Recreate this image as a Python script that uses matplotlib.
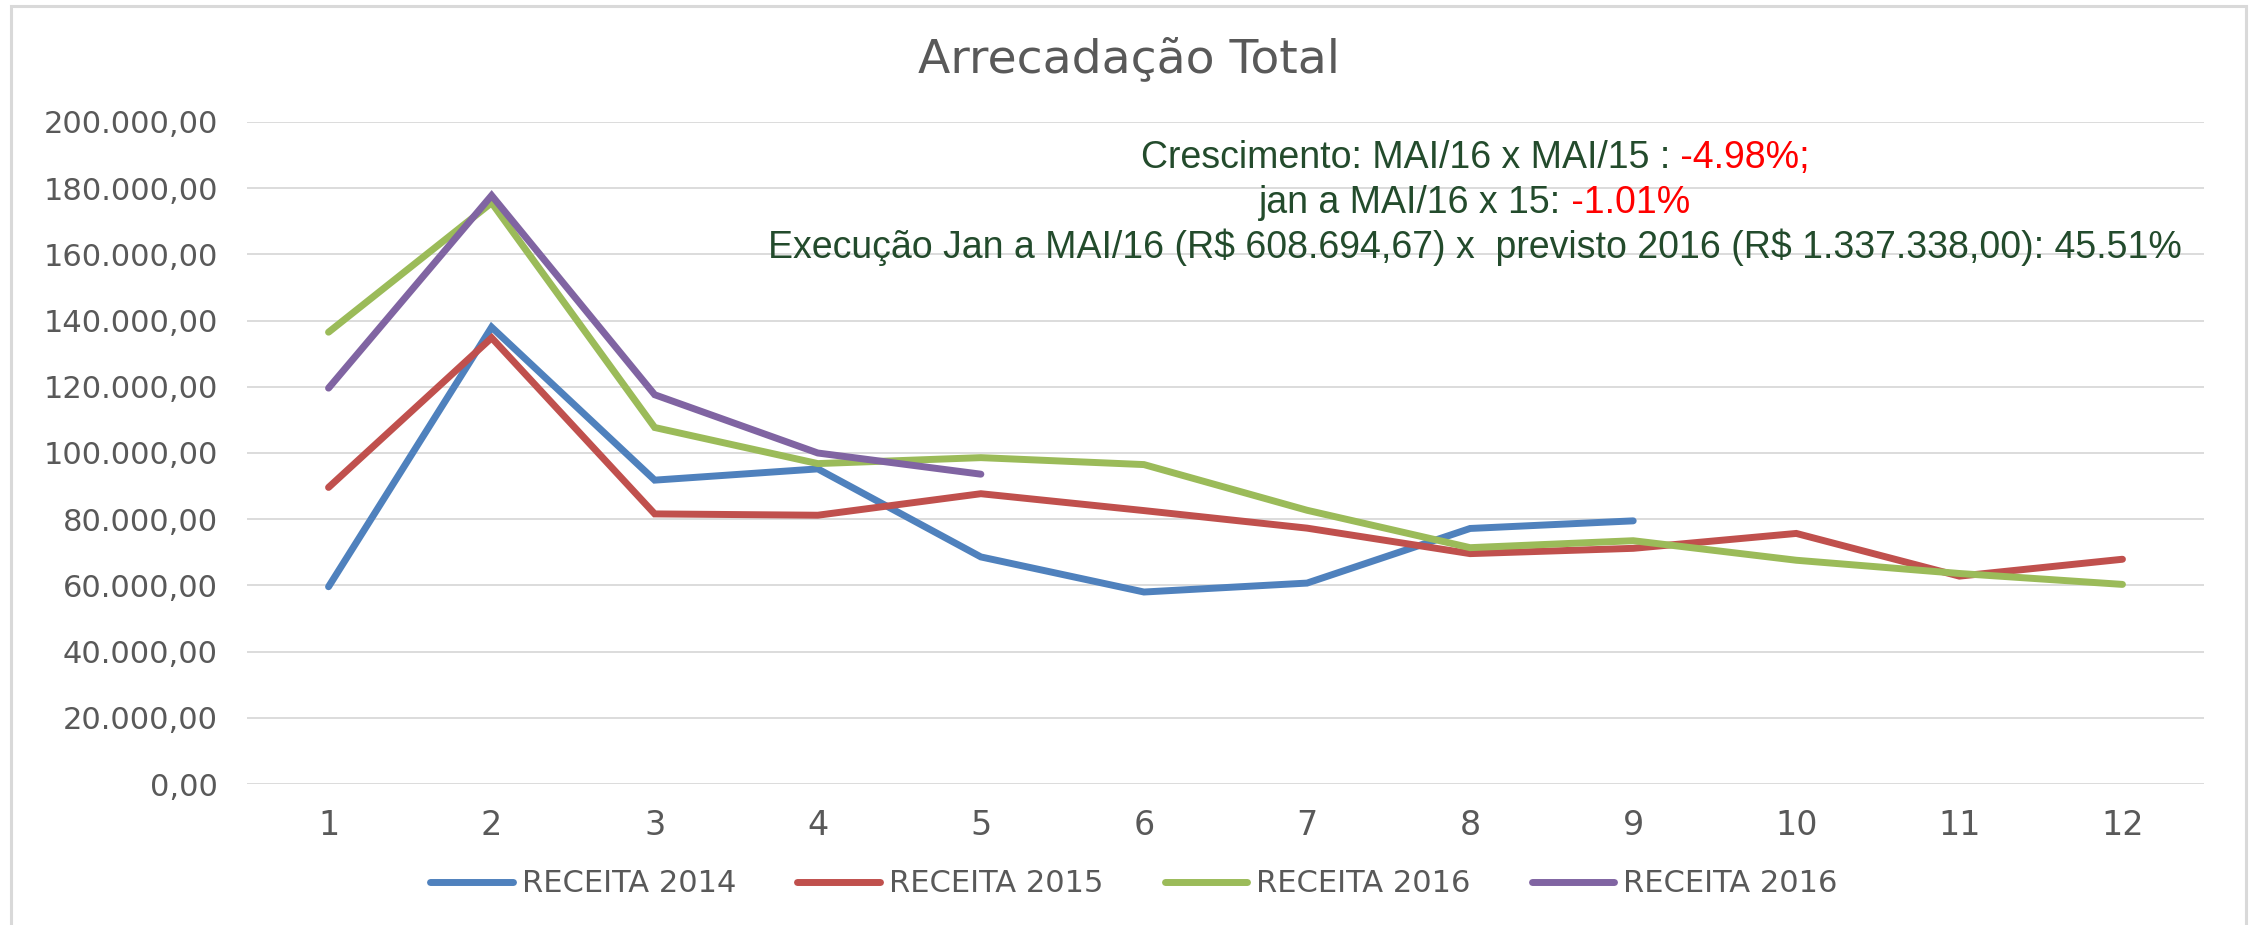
import matplotlib
matplotlib.use("Agg")
import matplotlib.pyplot as plt
from matplotlib.patches import Rectangle
from matplotlib.ticker import FuncFormatter

# ---- data ----
months = [1, 2, 3, 4, 5, 6, 7, 8, 9, 10, 11, 12]
receita_2014 = [59600, 138000, 91800, 95200, 68600, 58000, 60700, 77200, 79500]
receita_2015 = [89600, 134800, 81600, 81200, 87700, 82600, 77300, 69600, 71200, 75700, 62800, 67900]
receita_2016a = [136500, 175600, 107700, 96800, 98600, 96500, 82700, 71400, 73500, 67600, 63600, 60300]
receita_2016b = [119600, 177800, 117600, 100000, 93600]
series_labels = ["RECEITA 2014", "RECEITA 2015", "RECEITA 2016", "RECEITA 2016"]
series_colors = ["#4F81BD", "#C0504D", "#9BBB59", "#8064A2"]
y_ticks = [0, 20000, 40000, 60000, 80000, 100000, 120000, 140000, 160000, 180000, 200000]
title = "Arrecadação Total"
green_txt = "#234B2C"
red_txt = "#FF0000"
note_lines = [
    [("Crescimento: MAI/16 x MAI/15 :", green_txt), (" -4.98%;", red_txt)],
    [("jan a MAI/16 x 15:", green_txt), (" -1.01%", red_txt)],
    [("Execução Jan a MAI/16 (R$ 608.694,67) x  previsto 2016 (R$ 1.337.338,00): 45.51%", green_txt)],
]

W, H = 2255, 925
fig = plt.figure(figsize=(W / 100, H / 100), dpi=100)
fig.patch.set_facecolor("white")

# outer frame
fig.add_artist(Rectangle((11 / W, -0.05), (2246 - 11) / W, 1.05 - 6 / H,
                         transform=fig.transFigure, fill=False,
                         edgecolor="#D9D9D9", linewidth=2.2))

ax = fig.add_axes([247 / W, 1 - 784 / H, (2204 - 247) / W, (784 - 122) / H])
series = [receita_2014, receita_2015, receita_2016a, receita_2016b]
for vals, lab, col in zip(series, series_labels, series_colors):
    ax.plot(months[:len(vals)], vals, color=col, lw=5.0, label=lab,
            solid_capstyle="round", solid_joinstyle="miter")

ax.set_xlim(0.5, 12.5)
ax.set_ylim(0, 200000)
ax.set_xticks(months)
ax.set_yticks(y_ticks)
ax.yaxis.set_major_formatter(FuncFormatter(
    lambda v, p: f"{v:,.2f}".replace(",", "X").replace(".", ",").replace("X", ".")))
ax.grid(axis="y", color="#D9D9D9", lw=1.3)
ax.set_axisbelow(True)
for s in ax.spines.values():
    s.set_visible(False)
ax.tick_params(axis="both", length=0, colors="#595959")
ax.tick_params(axis="y", pad=21, labelsize=22)
ax.tick_params(axis="x", pad=18, labelsize=24)
for lbl in ax.get_xticklabels() + ax.get_yticklabels():
    lbl.set_fontfamily("DejaVu Sans")

fig.text(1129 / W, 1 - 72 / H, title, ha="center", va="baseline",
         fontsize=34, color="#595959", family="DejaVu Sans")

leg = fig.legend(loc="center", bbox_to_anchor=(1134 / W, 1 - 884 / H), ncol=4,
                 frameon=False, handlelength=2.7, handletextpad=0.3,
                 columnspacing=2.0, prop={"family": "DejaVu Sans", "size": 22})
for t in leg.get_texts():
    t.set_color("#595959")
for h in leg.get_lines():
    h.set_linewidth(5)

# annotation lines (centered, mixed colors)
baselines = [168, 213, 258]
xc = 1475
renderer = fig.canvas.get_renderer()
for parts, yb in zip(note_lines, baselines):
    texts = [fig.text(0, 1 - yb / H, s, color=c, ha="left", va="baseline",
                      fontsize=27, family="Liberation Sans", parse_math=False)
             for s, c in parts]
    widths = [t.get_window_extent(renderer).width for t in texts]
    x = xc - sum(widths) / 2
    for t, w in zip(texts, widths):
        t.set_x(x / W)
        x += w

fig.savefig("out.png", dpi=100, facecolor="white")
